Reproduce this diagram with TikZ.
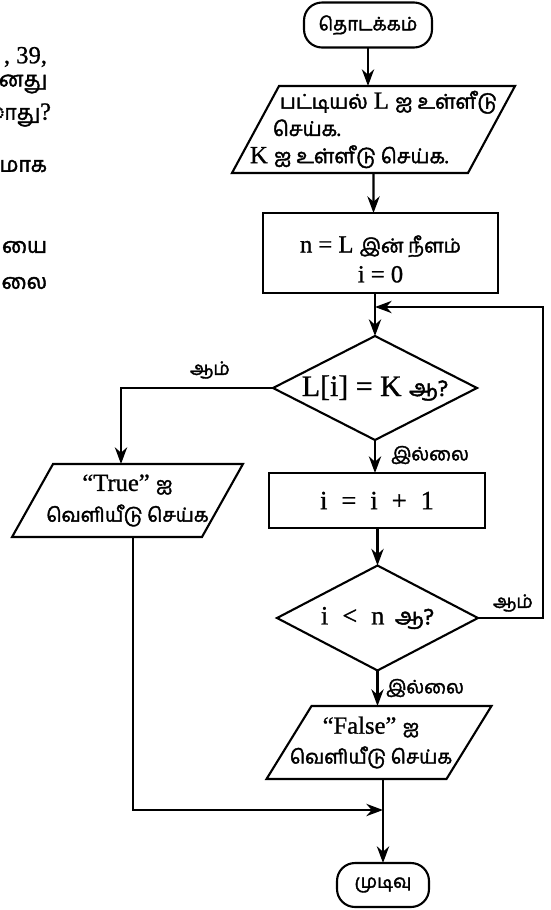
\documentclass[tikz,border=0pt]{standalone}
\usepackage{fontspec}
\setmainfont{Liberation Serif}[FakeBold=1]
\newfontfamily\tamilfont[Script=Tamil,FakeBold=2]{Hind Madurai}
\newcommand{\tm}[1]{{\tamilfont #1}}
\newcommand{\iobody}[2]{\rule{0pt}{#2}\hspace*{#1}}
\usetikzlibrary{shapes.geometric,arrows.meta}

\begin{document}
\begin{tikzpicture}
  [x=0.02cm,y=-0.02cm,line width=1.2pt,>={Stealth[length=9.5pt,width=7pt]},
   every node/.style={inner sep=0pt,outer sep=0pt,font=\fontsize{14}{17}\selectfont},
   term/.style={draw,rectangle,rounded corners=0.36cm,font=\fontsize{10.5}{12}\tamilfont},
   box/.style={draw,rectangle,align=center},
   io/.style={draw,trapezium,trapezium left angle=#1,trapezium right angle=180-#1},
   test/.style={draw,diamond,aspect=2},
   lbl/.style={font=\fontsize{10.5}{12}\tamilfont},
   frag/.style={anchor=east,font=\fontsize{12}{14}\selectfont}]
\useasboundingbox (0,0) rectangle (551,910);
  % page text cut at the left
  \node[frag,font=\fontsize{14}{16}\selectfont] (f1) at (47,57) {, 39,};
  \node[frag] (f2) at (47,84) {\tm{னது}};
  \node[frag] (f3) at (51,115) {\tm{ாது}\fontsize{14}{16}\selectfont?};
  \node[frag] (f4) at (47,166) {\tm{மாக}};
  \node[frag] (f5) at (47,247) {\tm{யை}};
  \node[frag] (f6) at (47,283) {\tm{லை}};

  \node[term,minimum width=2.56cm,minimum height=0.9cm] (start) at (368,25) {தொடக்கம்};
  \node[io=61.6] (inp) at (373.5,129.5) {\iobody{3.78cm}{1.74cm}};
  \node[align=left,font=\fontsize{14}{15.5}\selectfont] (inptxt) at (inp.center)
       {\hspace*{17pt}\tm{\fontsize{11.5}{13}\selectfont பட்டியல்} L \tm{\fontsize{11.5}{13}\selectfont ஐ உள்ளீடு}\\
        \hspace*{13pt}\tm{\fontsize{11.5}{13}\selectfont செய்க.}\\
        K \tm{\fontsize{11.5}{13}\selectfont ஐ உள்ளீடு செய்க.}};
  \node[box,minimum width=4.7cm,minimum height=1.6cm] (init) at (380.5,253) {};
  \node[align=center,font=\fontsize{14}{17}\selectfont] (inittxt) at ([yshift=-0.12cm]init.center)
       {n = L \tm{\fontsize{11}{13}\selectfont இன் நீளம்}\\ i = 0};
  \node[test,minimum width=4.08cm,minimum height=2.08cm,
        font=\fontsize{17}{20}\selectfont] (chk) at (375,388) {L[i] = K \tm{\fontsize{13}{16}\selectfont ஆ?}};
  \node[io=60.7] (truebox) at (127.5,500.5) {\iobody{2.98cm}{1.46cm}};
  \node[align=center,font=\fontsize{14}{17.5}\selectfont] (truetxt) at (truebox.center)
       {“True” \tm{\fontsize{11}{13}\selectfont ஐ}\\ \tm{\fontsize{11}{13}\selectfont வெளியீடு செய்க}};
  \node[box,minimum width=4.32cm,minimum height=1.1cm,font=\fontsize{15}{18}\selectfont] (incr) at (377,500.5)
       {i\hspace{8pt}=\hspace{8pt}i\hspace{8pt}+\hspace{8pt}1};
  \node[test,minimum width=4.02cm,minimum height=2.1cm,
        font=\fontsize{15}{18}\selectfont] (cmp) at (377.5,618)
       {i\hspace{8pt}<\hspace{8pt}n\hspace{6pt}\tm{\fontsize{13}{16}\selectfont ஆ?}};
  \node[io=58.35] (falsebox) at (379,742.5) {\iobody{2.7cm}{1.46cm}};
  \node[align=center,font=\fontsize{14}{17}\selectfont] (falsetxt) at ([xshift=-0.16cm]falsebox.center)
       {“False” \tm{\fontsize{11}{13}\selectfont ஐ}\\ \tm{\fontsize{11}{13}\selectfont வெளியீடு செய்க}};
  \node[term,minimum width=1.84cm,minimum height=0.88cm] (stop) at (383,885) {முடிவு};

  \node[lbl] (yes1) at (210,370) {ஆம்};
  \node[lbl] (no1) at (430,455) {இல்லை};
  \node[lbl] (yes2) at (513,603) {ஆம்};
  \node[lbl] (no2) at (425,688) {இல்லை};

  \coordinate (join) at (375,307);
  \coordinate (back) at (543,307);
  \coordinate (ycorner) at (121,388);
  \coordinate (mrg) at (133,810);

  \draw[->] (start) -- (start |- inp.north);
  \draw[->] (inp) -- (inp |- init.north);
  \draw[->] (chk |- init.south) -- (chk.north);
  \draw[->] (cmp.east) -| (back) -- (join);
  \draw[->] (chk.west) -- (ycorner) -- (ycorner |- truebox.north);
  \draw[->] (chk.south) -- (chk.south |- incr.north);
  \draw[->] (cmp |- incr.south) -- (cmp.north);
  \draw[->] (cmp.south) -- (cmp.south |- falsebox.north);
  \draw[->] (stop |- falsebox.south) -- (stop.north);
  \draw[->] (truebox.south -| mrg) -- (mrg) -- (mrg -| stop);
\end{tikzpicture}
\end{document}
